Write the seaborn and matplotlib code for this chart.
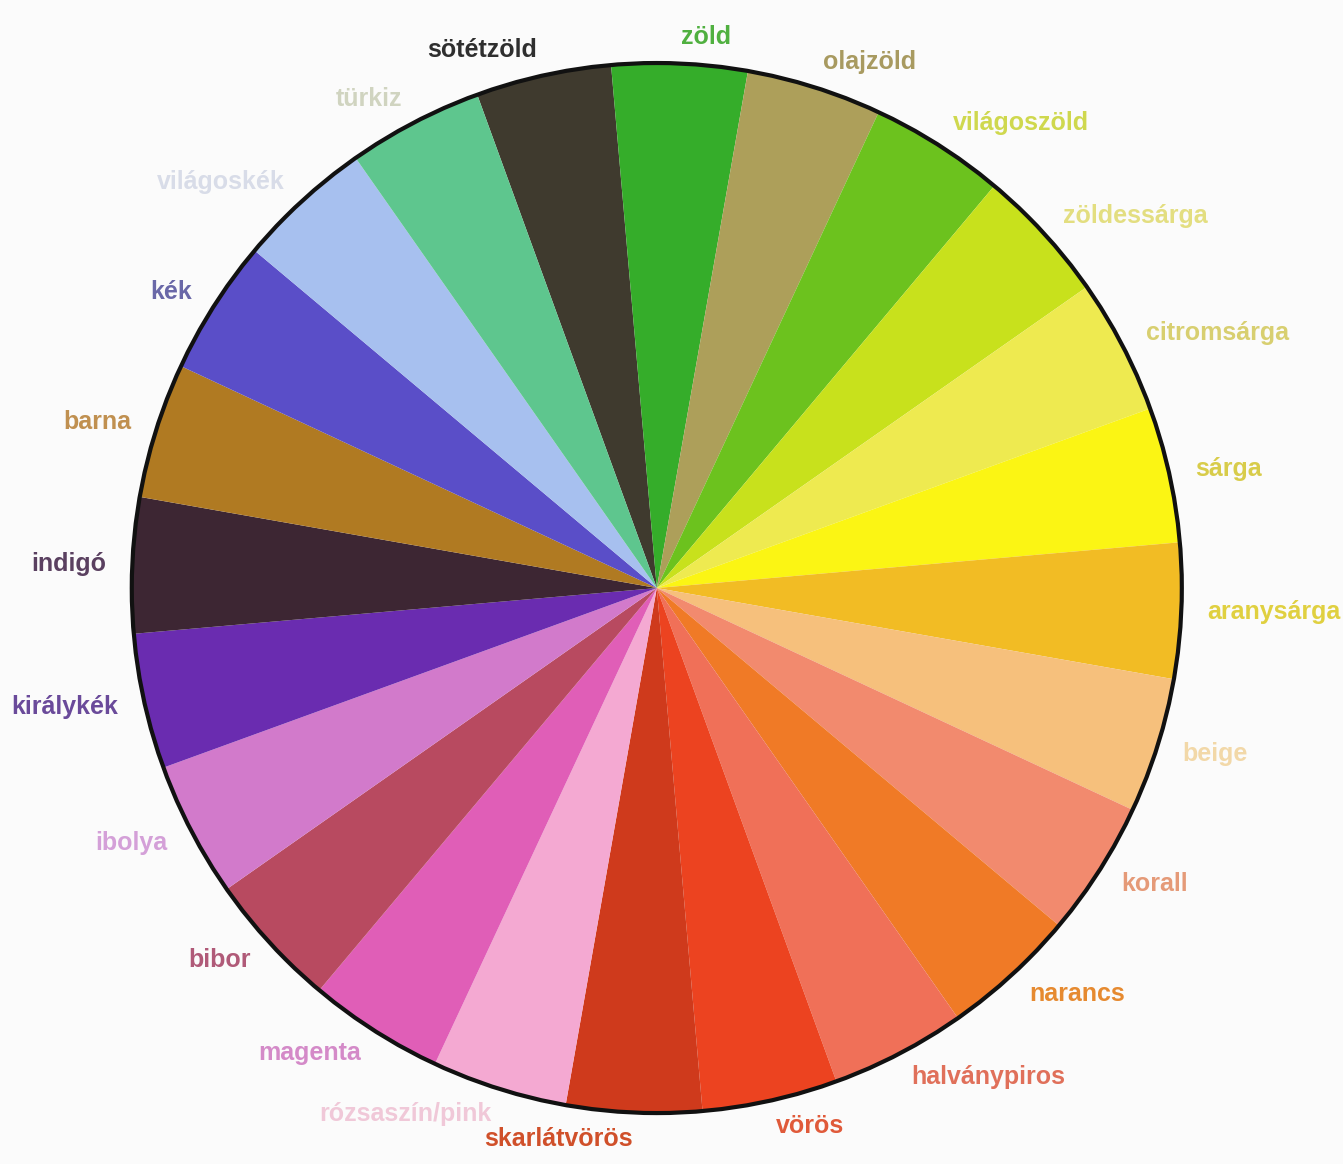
import matplotlib
matplotlib.use("Agg")
import matplotlib.pyplot as plt
import seaborn as sns

# colour names, clockwise from the top
names = ["sötétzöld", "zöld", "olajzöld", "világoszöld", "zöldessárga",
         "citromsárga", "sárga", "aranysárga", "beige", "korall", "narancs",
         "halványpiros", "vörös", "skarlátvörös", "rózsaszín/pink", "magenta",
         "bibor", "ibolya", "királykék", "indigó", "barna", "kék",
         "világoskék", "türkiz"]
shares = [1] * 24

slice_colors = ["#3f3a2e", "#35ad2a", "#ad9f5a", "#6cc21e", "#c8e11c",
                "#eeea50", "#fbf514", "#f2bc24", "#f6c07c", "#f28a6e",
                "#f07a26", "#f07058", "#ec4320", "#cf3a1c", "#f4a9d2",
                "#e05eb7", "#b84a60", "#d27acb", "#6a2cb0", "#3d2633",
                "#b07a22", "#5a4ec8", "#a7c0ef", "#5ec68e"]

label_colors = ["#2f2f2f", "#50b040", "#a89a60", "#cfd84e", "#e3de80",
                "#d8cf70", "#d8cc4a", "#e0d040", "#f2d8a8", "#e59a78",
                "#e68a30", "#e0705a", "#e05a3a", "#d0502a", "#f0c8d8",
                "#d48ac8", "#b05a78", "#d4a0d8", "#6a4a9a", "#5a4060",
                "#c09050", "#6a68a8", "#d8dce8", "#d0d4c0"]

sns.set_theme(style="white")
plt.rcParams["font.family"] = ["Liberation Sans", "DejaVu Sans"]

fig = plt.figure(figsize=(13.43, 11.64), dpi=100)
fig.patch.set_facecolor("#fbfbfb")
ax = fig.add_axes([0, 0, 1, 1])
ax.set_facecolor("#fbfbfb")

wedges, texts = ax.pie(shares, colors=slice_colors, labels=names,
                       startangle=110, counterclock=False,
                       labeldistance=1.05,
                       wedgeprops=dict(linewidth=0),
                       textprops=dict(fontsize=18, fontweight="bold"))
for t, c in zip(texts, label_colors):
    t.set_color(c)

# black rim around the wheel
ax.add_patch(plt.Circle((0, 0), 1.0, fill=False, edgecolor="#111111", linewidth=3))

ax.set_xlim(-1.251, 1.307)
ax.set_ylim(-1.097, 1.12)
ax.axis("off")

plt.savefig("out.png", dpi=100, facecolor=fig.get_facecolor())
